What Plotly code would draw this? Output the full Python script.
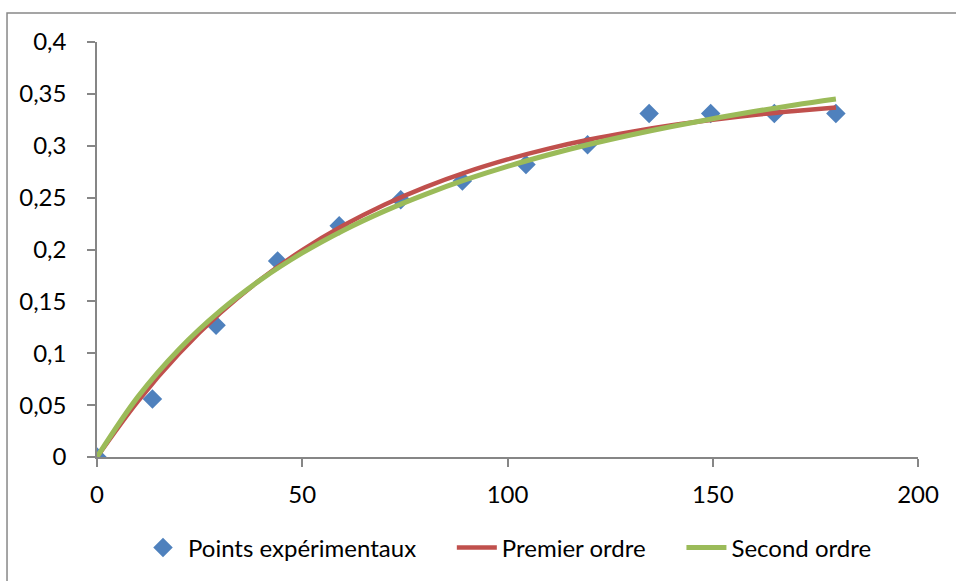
import plotly.graph_objects as go

# Experimental points: time vs adsorbed quantity
t_exp = [0, 13.5, 29, 44, 59, 74, 89, 104.5, 119.5, 134.5, 149.5, 165, 180]
q_exp = [0, 0.056, 0.127, 0.189, 0.223, 0.248, 0.266, 0.282, 0.301, 0.331, 0.331, 0.331, 0.331]

# Fitted kinetic curves sampled along time
t_fit = [0, 10, 20, 30, 40, 50, 60, 70, 80, 90, 100, 110, 120, 130, 140, 150, 160, 170, 180]
q_first = [0, 0.054, 0.0998, 0.1386, 0.1715, 0.1994, 0.2231, 0.2432, 0.2602, 0.2746,
           0.2868, 0.2972, 0.3060, 0.3134, 0.3198, 0.3251, 0.3297, 0.3335, 0.3368]
q_second = [0, 0.0582, 0.1039, 0.1408, 0.1712, 0.1967, 0.2184, 0.2370, 0.2532, 0.2675,
            0.2801, 0.2913, 0.3014, 0.3104, 0.3186, 0.3261, 0.3330, 0.3393, 0.3450]

x_ticks = [0, 50, 100, 150, 200]
y_ticks = [0, 0.05, 0.1, 0.15, 0.2, 0.25, 0.3, 0.35, 0.4]

FONT = "Lato"
FS = 24
PAD = "\u00a0" * 5  # spacing between legend entries

fig = go.Figure()
fig.add_trace(go.Scatter(
    x=t_exp, y=q_exp, mode="markers", name="Points expérimentaux" + PAD,
    marker=dict(symbol="diamond", size=15, color="#4F81BD"),
))
fig.add_trace(go.Scatter(
    x=t_fit, y=q_first, mode="lines", name="Premier ordre" + PAD, line_shape="spline",
    line=dict(color="#C0504D", width=4.5),
))
fig.add_trace(go.Scatter(
    x=t_fit, y=q_second, mode="lines", name="Second ordre", line_shape="spline",
    line=dict(color="#9BBB59", width=5),
))

axis_common = dict(
    showgrid=False, zeroline=False, showline=True, linecolor="#868686", linewidth=1.5,
    ticks="outside", ticklen=8, tickwidth=1.5, tickcolor="#868686",
    tickfont=dict(family=FONT, size=FS, color="#000000"),
)

fig.update_xaxes(range=[0, 200], tickvals=x_ticks, ticklabelstandoff=7, **axis_common)
fig.update_yaxes(range=[0, 0.4], tickvals=y_ticks, ticklabelstandoff=16, **axis_common)

# outer chart frame
fig.add_shape(type="rect", xref="paper", yref="paper",
              x0=-0.1096, x1=1.2, y0=-0.4, y1=1.0697,
              line=dict(color="#888888", width=1.5), fillcolor="rgba(0,0,0,0)", layer="below")

fig.update_layout(
    width=956, height=581,
    margin=dict(l=97, r=38, t=42, b=123),
    paper_bgcolor="white", plot_bgcolor="white",
    separators=", ",
    font=dict(family=FONT, size=FS, color="#000000"),
    showlegend=True,
    legend=dict(orientation="h", x=0.5, xanchor="center", y=-0.216, yanchor="middle",
                font=dict(family=FONT, size=FS, color="#000000"),
                itemwidth=40, tracegroupgap=0),
)

fig.write_html("out.html")
